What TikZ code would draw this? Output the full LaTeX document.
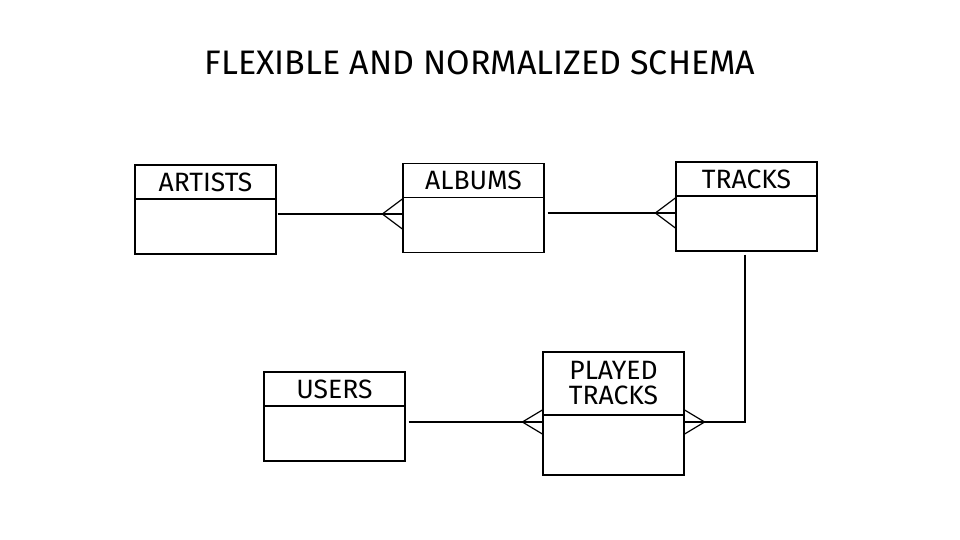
\documentclass[tikz,border=0pt]{standalone}
\usepackage{fontspec}
\setmainfont{Fira Sans}
\usetikzlibrary{positioning}

\tikzset{
    head/.style={draw, line width=1.2pt, minimum width=141pt, minimum height=34pt,
        inner sep=0pt, font=\fontsize{26.5}{27}\selectfont, align=center},
    attrs/.style={draw, line width=1.2pt, minimum width=141pt, minimum height=55pt},
    rel/.style={line width=1.2pt}
}

\begin{document}
\begin{tikzpicture}[x=1pt, y=-1pt]
                \useasboundingbox (0,0) rectangle (960,540);
                \node[font=\fontsize{34}{35}\selectfont] (title) at (480,63) {FLEXIBLE AND NORMALIZED SCHEMA};
                % entities
                \node[head] (artists) at (205.5,182) {ARTISTS};
                \node[attrs, below=-1.2pt of artists] (artistsB) {};
                \node[head] (albums) at (473.5,180.5) {ALBUMS};
                \node[attrs, below=-1.2pt of albums] (albumsB) {};
                \node[head] (tracks) at (746.5,179) {TRACKS};
                \node[attrs, below=-1.2pt of tracks] (tracksB) {};
                \node[head] (users) at (334.5,389) {USERS};
                \node[attrs, below=-1.2pt of users] (usersB) {};
                \node[head, minimum height=63pt, font=\fontsize{26.5}{25}\selectfont] (played) at (613.5,383.5) {PLAYED\\TRACKS};
                \node[attrs, below=-1.2pt of played, minimum height=60pt] (playedB) {};
                % relations
                \coordinate (a1) at ([xshift=1pt]artistsB.east |- 0,214);
                \coordinate (a2) at (albumsB.west |- 0,214);
                \draw[rel] (a1) -- (a2);
                \draw[rel] (a2) ++(0,-15) -- ++(-20,15) -- ++(20,15);
                \coordinate (b1) at ([xshift=3pt]albumsB.east |- 0,213);
                \coordinate (b2) at (tracksB.west |- 0,213);
                \draw[rel] (b1) -- (b2);
                \draw[rel] (b2) ++(0,-15) -- ++(-20,15) -- ++(20,15);
                \coordinate (c1) at ([xshift=3pt]usersB.east |- 0,422);
                \coordinate (c2) at (playedB.west |- 0,422);
                \draw[rel] (c1) -- (c2);
                \draw[rel] (c2) ++(0,-12) -- ++(-20,12) -- ++(20,12);
                \coordinate (d1) at ([xshift=-1.5pt,yshift=-3pt]tracksB.south);
                \coordinate (d2) at (playedB.east |- 0,422);
                \draw[rel] (d1) |- (d2);
                \draw[rel] (d2) ++(0,-12) -- ++(20,12) -- ++(-20,12);
            \end{tikzpicture}
\end{document}
